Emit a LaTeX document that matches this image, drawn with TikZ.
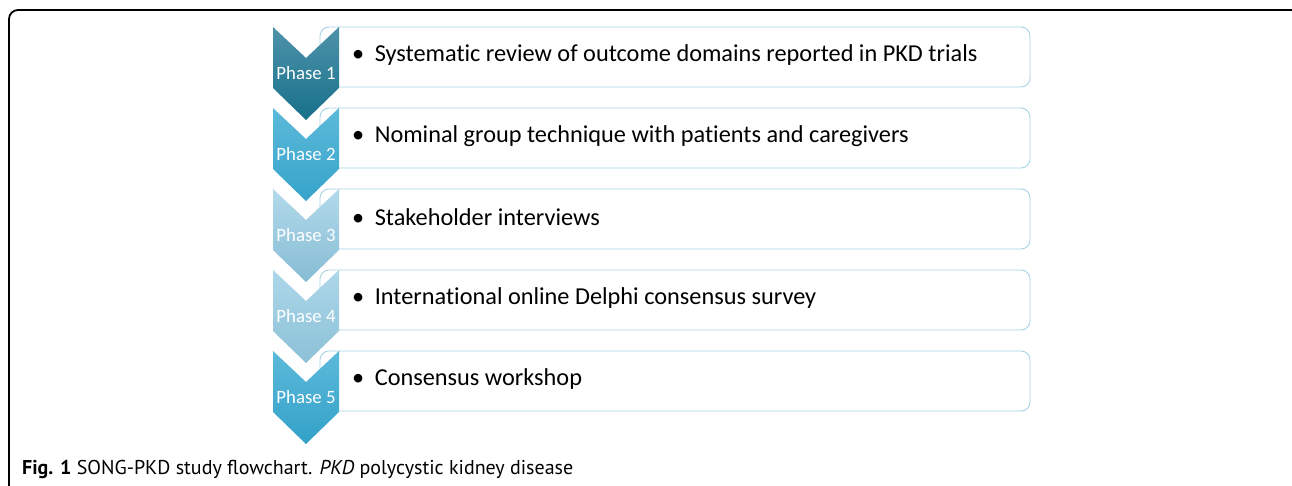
\documentclass[tikz,border=0pt]{standalone}
\usepackage{fontspec}
\setmainfont{Carlito}[Ligatures=NoCommon]
\newfontfamily\capfont{PT Sans}
\begin{document}
\begin{tikzpicture}[x=1pt,y=-1pt,
  frame/.style={line width=1.8pt, rounded corners=9pt},
  itembox/.style={draw=boxblue, line width=0.9pt, rounded corners=9pt},
  itemtext/.style={anchor=west, inner sep=0pt, font=\fontsize{24.3}{28}\selectfont, text=black},
  phasetext/.style={anchor=center, inner sep=0pt, font=\fontsize{18.8}{22}\selectfont, text=white},
  captext/.style={anchor=west, inner sep=0pt, font=\capfont\fontsize{20}{23}\selectfont}]
\definecolor{boxblue}{HTML}{A6D3E3}
\definecolor{pa1}{HTML}{4E93AA}\definecolor{pb1}{HTML}{17708A}
\definecolor{pa2}{HTML}{5DBADA}\definecolor{pb2}{HTML}{36A3CA}
\definecolor{pa3}{HTML}{B3DAEB}\definecolor{pb3}{HTML}{86BCD3}
\definecolor{pa4}{HTML}{ADD7E9}\definecolor{pb4}{HTML}{8CC1D7}
\definecolor{pa5}{HTML}{5DBADA}\definecolor{pb5}{HTML}{32A1C8}
\useasboundingbox (0,0) rectangle (1292,486);
\draw[frame] (9,520) -- (9,10) -- (1300,10) -- (1300,520);
\foreach \i/\t/\txt in {1/27/{Systematic review of outcome domains reported in PKD trials},
                        2/108/{Nominal group technique with patients and caregivers},
                        3/189/{Stakeholder interviews},
                        4/270/{International online Delphi consensus survey},
                        5/351/{Consensus workshop}}{
  \draw[itembox] (320,\t) rectangle (1030,\t+60);
  \path[top color=pa\i, bottom color=pb\i]
    (273,\t) -- (306,\t+31) -- (339,\t) -- (339,\t+61) -- (306,\t+93) -- (273,\t+61) -- cycle;
  \node[phasetext] (ph\i) at (306,\t+46) {Phase \i};
  \node[itemtext] (it\i) at (352,\t+28) {\textbullet\hspace{10.5pt}\txt};
}
\node[captext] (cap) at (22,469) {\textbf{Fig. 1} SONG-PKD study flowchart. \textit{PKD} polycystic kidney disease};
\end{tikzpicture}
\end{document}
